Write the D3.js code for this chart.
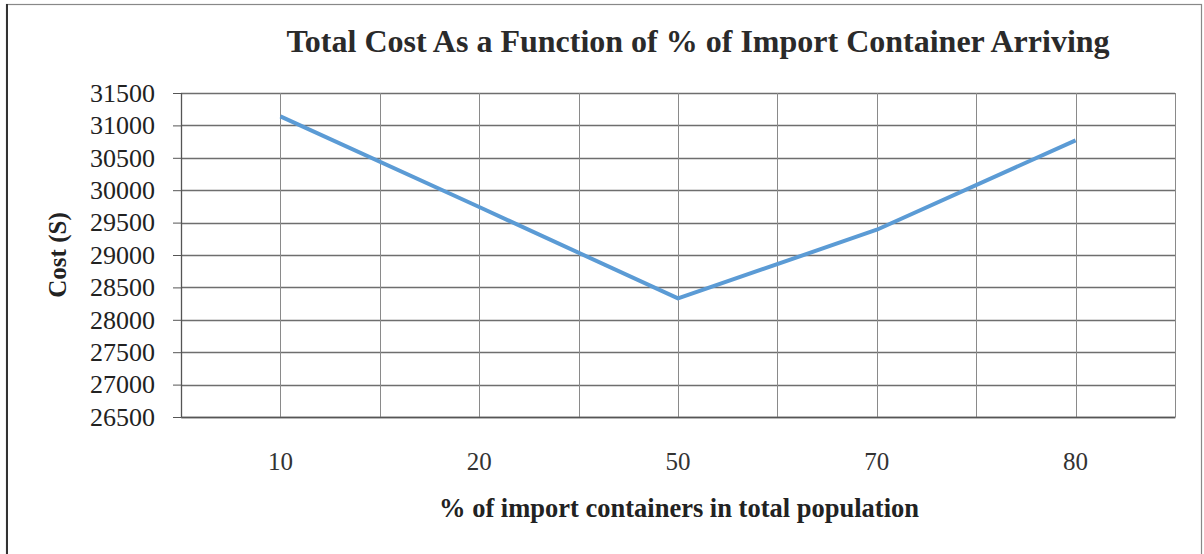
<!DOCTYPE html>
<html>
<head>
<meta charset="utf-8">
<script src="https://cdn.jsdelivr.net/npm/d3@7/dist/d3.min.js"></script>
<style>
  html, body { margin: 0; padding: 0; background: #fff; }
  svg { display: block; }
  text { font-family: "Liberation Serif", "Times New Roman", serif; }
</style>
</head>
<body>
<svg id="chart" width="1204" height="554"></svg>
<script>
// Share of import containers (category labels) and resulting total cost
const categories = ["10", "20", "50", "70", "80"];
const costValues = [31140, 29740, 28330, 29390, 30770];
const yTicks = [26500, 27000, 27500, 28000, 28500, 29000, 29500, 30000, 30500, 31000, 31500];

const svg = d3.select("#chart");
const margin = { left: 181, top: 93, right: 1175, bottom: 417 };

// Outer chart frame
svg.append("rect")
  .attr("x", 6.5).attr("y", 4.5)
  .attr("width", 1195).attr("height", 560)
  .attr("fill", "#fff")
  .attr("stroke", "#888").attr("stroke-width", 1.2);
svg.append("line")
  .attr("x1", 7).attr("x2", 7).attr("y1", 4).attr("y2", 554)
  .attr("stroke", "#333").attr("stroke-width", 2);

const x = d3.scaleBand()
  .domain(categories)
  .range([margin.left, margin.right])
  .paddingInner(0).paddingOuter(0);

const y = d3.scaleLinear()
  .domain([26500, 31500])
  .range([margin.bottom, margin.top]);

const grid = svg.append("g").attr("class", "grid");

// Horizontal gridlines
grid.selectAll("line.h")
  .data(yTicks)
  .join("line")
  .attr("class", "h")
  .attr("x1", margin.left).attr("x2", margin.right)
  .attr("y1", d => Math.round(y(d)) + 0.5)
  .attr("y2", d => Math.round(y(d)) + 0.5)
  .attr("stroke", "#6e6e6e").attr("stroke-width", 1.3);

// Vertical gridlines at band edges and category centres
const vLines = [];
categories.forEach(c => {
  vLines.push(x(c));
  vLines.push(x(c) + x.bandwidth() / 2);
});
vLines.push(margin.right);
grid.selectAll("line.v")
  .data(vLines)
  .join("line")
  .attr("class", "v")
  .attr("x1", d => Math.round(d) + 0.5).attr("x2", d => Math.round(d) + 0.5)
  .attr("y1", margin.top).attr("y2", margin.bottom)
  .attr("stroke", "#8a8a8a").attr("stroke-width", 1);

// Left axis line and tick marks
svg.append("line")
  .attr("x1", margin.left + 0.5).attr("x2", margin.left + 0.5)
  .attr("y1", margin.top).attr("y2", margin.bottom)
  .attr("stroke", "#555").attr("stroke-width", 1.3);

const yAxis = d3.axisLeft(y)
  .tickValues(yTicks)
  .tickSize(8)
  .tickPadding(18)
  .tickFormat(d3.format("d"));

const yAxisG = svg.append("g")
  .attr("transform", `translate(${margin.left},0)`)
  .call(yAxis);
yAxisG.select(".domain").remove();
yAxisG.selectAll(".tick line").attr("stroke", "#555");
yAxisG.selectAll(".tick text")
  .attr("font-family", "Liberation Serif, Times New Roman, serif")
  .attr("font-size", 26)
  .attr("fill", "#222");

// Category labels along the bottom
const xAxis = d3.axisBottom(x).tickSize(0).tickPadding(35);
const xAxisG = svg.append("g")
  .attr("transform", `translate(0,${margin.bottom})`)
  .call(xAxis);
xAxisG.select(".domain").attr("stroke", "#555").attr("stroke-width", 1.3);
xAxisG.selectAll(".tick text")
  .attr("font-family", "Liberation Serif, Times New Roman, serif")
  .attr("font-size", 25)
  .attr("fill", "#333");

// Cost line
const line = d3.line()
  .x((d, i) => x(categories[i]) + x.bandwidth() / 2)
  .y(d => y(d));

svg.append("path")
  .datum(costValues)
  .attr("d", line)
  .attr("fill", "none")
  .attr("stroke", "#5b9bd5")
  .attr("stroke-width", 4)
  .attr("stroke-linejoin", "round");

// Titles
svg.append("text")
  .attr("x", 698).attr("y", 52)
  .attr("text-anchor", "middle")
  .attr("font-size", 32)
  .attr("font-weight", "bold")
  .attr("fill", "#2a2a2a")
  .text("Total Cost As a Function of % of Import Container Arriving");

svg.append("text")
  .attr("x", 679).attr("y", 517)
  .attr("text-anchor", "middle")
  .attr("font-size", 26.5)
  .attr("font-weight", "bold")
  .attr("fill", "#222")
  .text("% of import containers in total population");

svg.append("text")
  .attr("transform", `translate(66,${(margin.top + margin.bottom) / 2}) rotate(-90)`)
  .attr("text-anchor", "middle")
  .attr("font-size", 25)
  .attr("font-weight", "bold")
  .attr("fill", "#222")
  .text("Cost (S)");
</script>
</body>
</html>
